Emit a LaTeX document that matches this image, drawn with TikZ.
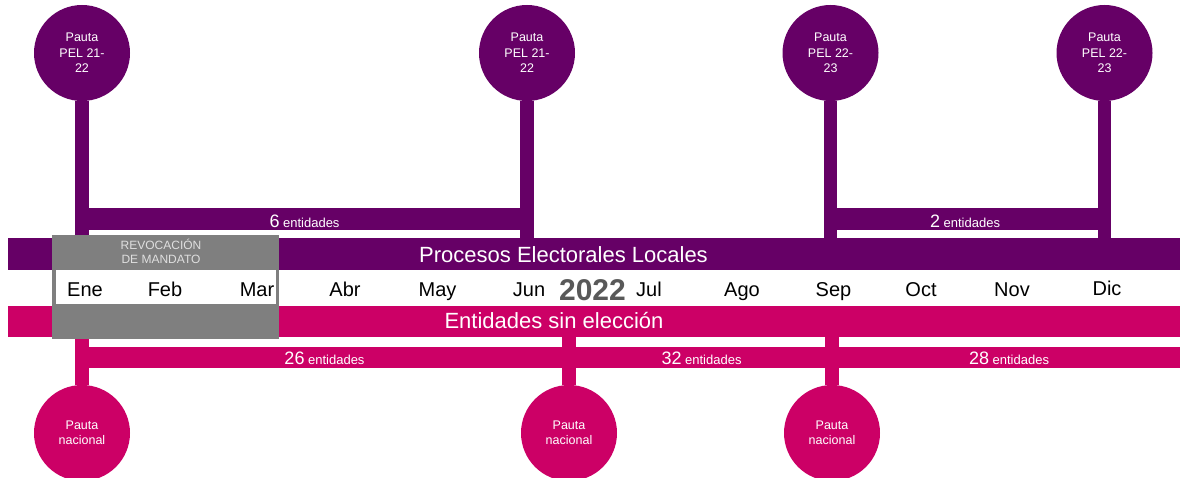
\documentclass[tikz,border=0pt]{standalone}
\usepackage{fontspec}
\setmainfont{Liberation Sans}
\definecolor{morado}{HTML}{660066}
\definecolor{rosa}{HTML}{CC0066}
\definecolor{gris}{HTML}{7F7F7F}
\definecolor{anio}{HTML}{595959}
\newcommand{\cifragrande}{\fontsize{18}{20}\selectfont}

\begin{document}
\begin{tikzpicture}[x=1pt,y=-1pt,
		pauta/.style={circle,inner sep=0pt,minimum size=96pt,text=white,align=center,font=\fontsize{12.5}{15.5}\selectfont},
		barra/.style={inner sep=0pt,minimum height=#1},
		tallo/.style={line width=13.5pt},
		mes/.style={anchor=base,font=\fontsize{20}{24}\selectfont},
		cifra/.style={anchor=base,text=white,font=\fontsize{13}{15}\selectfont}]
			\useasboundingbox[fill=white] (0,0) rectangle (1180,478);
			
			\node[barra=32pt,fill=morado,minimum width=1172pt] (pelbar) at (594,254) {};
			\node[barra=31pt,fill=rosa,minimum width=1172pt] (sinbar) at (594,321.5) {};
			\node[anchor=base,text=white,font=\fontsize{22}{26}\selectfont] (peltxt) at (563.5,262.5) {Procesos Electorales Locales};
			\node[anchor=base,text=white,font=\fontsize{22}{26}\selectfont] (sintxt) at (554,328.5) {Entidades sin elección};
			
			\node[pauta,fill=morado] (p1) at (82,53) {Pauta\\PEL 21-\\22}; \draw[tallo,morado] (p1.south) -- (p1.south |- pelbar.north);
			\node[pauta,fill=morado] (p2) at (527,53) {Pauta\\PEL 21-\\22}; \draw[tallo,morado] (p2.south) -- (p2.south |- pelbar.north);
			\node[pauta,fill=morado] (p3) at (830.5,53) {Pauta\\PEL 22-\\23}; \draw[tallo,morado] (p3.south) -- (p3.south |- pelbar.north);
			\node[pauta,fill=morado] (p4) at (1104.5,53) {Pauta\\PEL 22-\\23}; \draw[tallo,morado] (p4.south) -- (p4.south |- pelbar.north);
			
			\node[barra=22pt,fill=morado,minimum width=458.5pt] (b6) at (304.5,219) {};
			\node[cifra] (t6) at (304.5,227.5) {{\cifragrande 6} entidades};
			\node[barra=22pt,fill=morado,minimum width=287.5pt] (b2) at (967.5,219) {};
			\node[cifra] (t2) at (965,227.5) {{\cifragrande 2} entidades};
			
			\node[pauta,fill=rosa] (n1) at (82,433) {Pauta\\nacional}; \draw[tallo,rosa] (n1.north) -- (n1.north |- sinbar.south);
			\node[pauta,fill=rosa] (n2) at (569,433) {Pauta\\nacional}; \draw[tallo,rosa] (n2.north) -- (n2.north |- sinbar.south);
			\node[pauta,fill=rosa] (n3) at (832,433) {Pauta\\nacional}; \draw[tallo,rosa] (n3.north) -- (n3.north |- sinbar.south);
			
			\node[barra=21pt,fill=rosa,minimum width=1104.75pt] (benti) at (627.6,357.5) {};
			\node[cifra] (t26) at (324.5,364) {{\cifragrande 26} entidades};
			\node[cifra] (t32) at (701.5,364) {{\cifragrande 32} entidades};
			\node[cifra] (t28) at (1009,364) {{\cifragrande 28} entidades};
			
			% revocacion de mandato
			\node[fill=gris,inner sep=0pt,minimum width=227pt,minimum height=104pt] (revoc) at (165.5,287) {};
			\node[fill=white,inner sep=0pt,minimum width=220pt,minimum height=34pt] (meses) at (166,287) {};
			\node[anchor=base,text=gray!25,font=\fontsize{12}{14}\selectfont] (rev1) at (161,249.3) {REVOCACIÓN};
			\node[anchor=base,text=gray!25,font=\fontsize{12}{14}\selectfont] (rev2) at (161,264) {DE MANDATO};
			
			\node[mes] (ene) at (85,297) {Ene}; \node[mes] (feb) at (165,297) {Feb}; \node[mes] (mar) at (257,297) {Mar};
			\node[mes] (abr) at (345,297) {Abr}; \node[mes] (may) at (437.5,297) {May}; \node[mes] (jun) at (529,297) {Jun};
			\node[anchor=base,text=anio,font=\bfseries\fontsize{30}{34}\selectfont] (year) at (592.5,300) {2022};
			\node[mes] (jul) at (649,297) {Jul}; \node[mes] (ago) at (742,297) {Ago}; \node[mes] (sep) at (833.5,297) {Sep};
			\node[mes] (oct) at (921,297) {Oct}; \node[mes] (nov) at (1012,297) {Nov}; \node[mes] (dic) at (1107,295) {Dic};
			\end{tikzpicture}
\end{document}
